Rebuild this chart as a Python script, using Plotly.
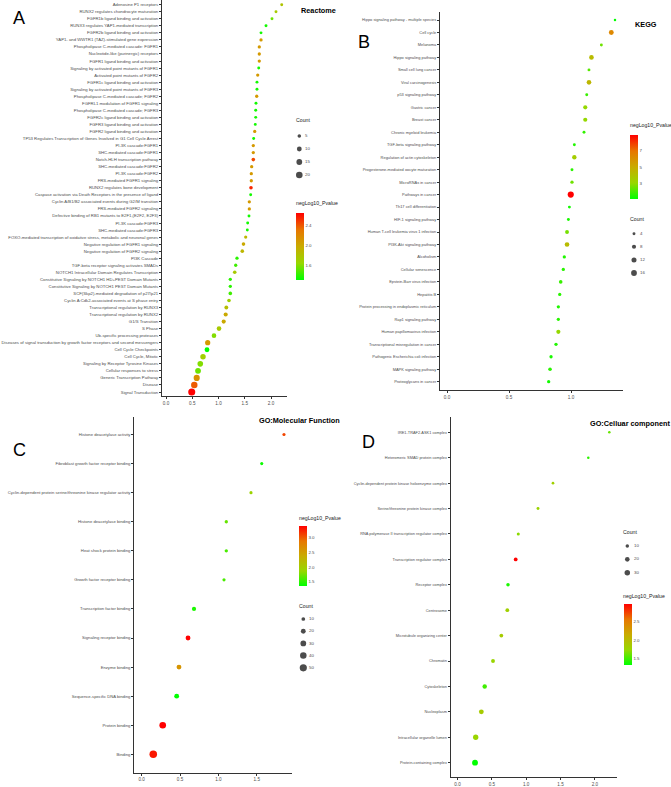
import numpy as np
import plotly.graph_objects as go

W, H = 671, 787

# ---------------- DATA ----------------
reactome_terms = [
    "Adenosine P1 receptors",
    "RUNX2 regulates chondrocyte maturation",
    "FGFR1b ligand binding and activation",
    "RUNX3 regulates YAP1-mediated transcription",
    "FGFR2b ligand binding and activation",
    "YAP1- and WWTR1 (TAZ)-stimulated gene expression",
    "Phospholipase C-mediated cascade: FGFR1",
    "Nucleotide-like (purinergic) receptors",
    "FGFR1 ligand binding and activation",
    "Signaling by activated point mutants of FGFR1",
    "Activated point mutants of FGFR2",
    "FGFR1c ligand binding and activation",
    "Signaling by activated point mutants of FGFR3",
    "Phospholipase C-mediated cascade; FGFR2",
    "FGFRL1 modulation of FGFR1 signaling",
    "Phospholipase C-mediated cascade; FGFR3",
    "FGFR2c ligand binding and activation",
    "FGFR3 ligand binding and activation",
    "FGFR2 ligand binding and activation",
    "TP53 Regulates Transcription of Genes Involved in G1 Cell Cycle Arrest",
    "PI-3K cascade:FGFR1",
    "SHC-mediated cascade:FGFR1",
    "Notch-HLH transcription pathway",
    "SHC-mediated cascade:FGFR2",
    "PI-3K cascade:FGFR2",
    "FRS-mediated FGFR1 signaling",
    "RUNX2 regulates bone development",
    "Caspase activation via Death Receptors in the presence of ligand",
    "Cyclin A/B1/B2 associated events during G2/M transition",
    "FRS-mediated FGFR2 signaling",
    "Defective binding of RB1 mutants to E2F1,(E2F2, E2F3)",
    "PI-3K cascade:FGFR3",
    "SHC-mediated cascade:FGFR3",
    "FOXO-mediated transcription of oxidative stress, metabolic and neuronal genes",
    "Negative regulation of FGFR1 signaling",
    "Negative regulation of FGFR2 signaling",
    "PI3K Cascade",
    "TGF-beta receptor signaling activates SMADs",
    "NOTCH1 Intracellular Domain Regulates Transcription",
    "Constitutive Signaling by NOTCH1 HD+PEST Domain Mutants",
    "Constitutive Signaling by NOTCH1 PEST Domain Mutants",
    "SCF(Skp2)-mediated degradation of p27/p21",
    "Cyclin A:Cdk2-associated events at S phase entry",
    "Transcriptional regulation by RUNX3",
    "Transcriptional regulation by RUNX2",
    "G1/S Transition",
    "S Phase",
    "Ub-specific processing proteases",
    "Diseases of signal transduction by growth factor receptors and second messengers",
    "Cell Cycle Checkpoints",
    "Cell Cycle, Mitotic",
    "Signaling by Receptor Tyrosine Kinases",
    "Cellular responses to stress",
    "Generic Transcription Pathway",
    "Disease",
    "Signal Transduction",
]
reactome_x = [2.204, 2.095, 2.019, 1.905, 1.810, 1.810, 1.777, 1.777, 1.777, 1.766,
              1.747, 1.733, 1.733, 1.728, 1.714, 1.709, 1.709, 1.701, 1.690, 1.670,
              1.663, 1.663, 1.663, 1.632, 1.625, 1.625, 1.619, 1.613, 1.587, 1.587,
              1.581, 1.556, 1.549, 1.518, 1.476, 1.453, 1.352, 1.328, 1.309, 1.225,
              1.225, 1.225, 1.200, 1.149, 1.137, 1.099, 1.010, 0.914, 0.794, 0.781,
              0.705, 0.653, 0.610, 0.585, 0.539, 0.490]
reactome_p = [1.80, 1.75, 1.55, 1.35, 1.35, 2.10, 2.10, 2.10, 2.10, 1.35,
              2.10, 1.35, 1.35, 2.10, 1.35, 1.35, 1.35, 1.35, 2.10, 1.35,
              2.10, 2.10, 2.45, 2.10, 2.10, 2.10, 2.55, 1.35, 2.10, 2.10,
              1.35, 1.35, 1.35, 1.90, 2.00, 1.90, 1.40, 1.45, 1.75, 1.40,
              1.40, 1.45, 1.70, 1.85, 2.00, 2.00, 1.75, 1.60, 2.10, 1.31,
              1.70, 1.60, 1.55, 2.15, 2.40, 2.66]
reactome_count = [3, 3, 3, 3, 3, 4, 4, 4, 4, 3,
                  4, 3, 3, 4, 3, 3, 3, 3, 4, 3,
                  4, 4, 5, 4, 4, 4, 5, 3, 4, 4,
                  3, 3, 3, 4, 5, 5, 4, 4, 5, 4,
                  4, 5, 5, 6, 7, 7, 9, 9, 12, 10,
                  13, 14, 15, 17, 19, 23]
reactome_count_breaks = [5, 10, 15, 20]
reactome_color_ticks = [1.6, 2.0, 2.4]

kegg_terms = [
    "Hippo signaling pathway - multiple species",
    "Cell cycle",
    "Melanoma",
    "Hippo signaling pathway",
    "Small cell lung cancer",
    "Viral carcinogenesis",
    "p53 signaling pathway",
    "Gastric cancer",
    "Breast cancer",
    "Chronic myeloid leukemia",
    "TGF-beta signaling pathway",
    "Regulation of actin cytoskeleton",
    "Progesterone-mediated oocyte maturation",
    "MicroRNAs in cancer",
    "Pathways in cancer",
    "Th17 cell differentiation",
    "HIF-1 signaling pathway",
    "Human T-cell leukemia virus 1 infection",
    "PI3K-Akt signaling pathway",
    "Alcoholism",
    "Cellular senescence",
    "Epstein-Barr virus infection",
    "Hepatitis B",
    "Protein processing in endoplasmic reticulum",
    "Rap1 signaling pathway",
    "Human papillomavirus infection",
    "Transcriptional misregulation in cancer",
    "Pathogenic Escherichia coli infection",
    "MAPK signaling pathway",
    "Proteoglycans in cancer",
]
kegg_x = [1.355, 1.325, 1.245, 1.165, 1.145, 1.145, 1.127, 1.115, 1.115, 1.105,
          1.027, 1.027, 1.008, 1.008, 0.998, 0.987, 0.979, 0.968, 0.968, 0.946,
          0.938, 0.917, 0.909, 0.898, 0.898, 0.898, 0.879, 0.839, 0.831, 0.820]
kegg_p = [1.07, 6.3, 2.5, 4.3, 2.2, 4.5, 1.8, 3.0, 3.0, 1.7,
          1.5, 3.5, 1.6, 2.5, 8.93, 1.3, 1.4, 2.6, 4.3, 1.5,
          1.6, 1.8, 1.6, 1.5, 1.6, 3.0, 1.5, 1.4, 1.6, 1.3]
kegg_count = [3, 11, 4, 10, 4, 10, 4, 8, 8, 4,
              4, 9, 4, 5, 18, 4, 4, 7, 10, 5,
              5, 6, 5, 5, 5, 8, 5, 5, 6, 5]
kegg_count_breaks = [4, 8, 12, 16]
kegg_color_ticks = [3, 5, 7]

mf_terms = [
    "Histone deacetylase activity",
    "Fibroblast growth factor receptor binding",
    "Cyclin-dependent protein serine/threonine kinase regulator activity",
    "Histone deacetylase binding",
    "Heat shock protein binding",
    "Growth factor receptor binding",
    "Transcription factor binding",
    "Signaling receptor binding",
    "Enzyme binding",
    "Sequence-specific DNA binding",
    "Protein binding",
    "Binding",
]
mf_x = [1.855, 1.565, 1.425, 1.103, 1.103, 1.073, 0.682, 0.604, 0.486, 0.456, 0.274, 0.151]
mf_p = [3.1, 1.40, 1.9, 1.7, 1.6, 1.6, 1.45, 3.4, 2.6, 1.36, 3.4, 3.3]
mf_count = [6, 6, 6, 7, 7, 6, 14, 20, 20, 20, 42, 56]
mf_count_breaks = [10, 20, 30, 40, 50]
mf_color_ticks = [1.5, 2.0, 2.5, 3.0]

cc_terms = [
    "IRE1-TRAF2-ASK1 complex",
    "Heteromeric SMAD protein complex",
    "Cyclin-dependent protein kinase holoenzyme complex",
    "Serine/threonine protein kinase complex",
    "RNA polymerase II transcription regulator complex",
    "Transcription regulator complex",
    "Receptor complex",
    "Centrosome",
    "Microtubule organizing center",
    "Chromatin",
    "Cytoskeleton",
    "Nucleoplasm",
    "Intracellular organelle lumen",
    "Protein-containing complex",
]
cc_x = [2.21, 1.904, 1.39, 1.172, 0.885, 0.847, 0.735, 0.725, 0.638, 0.517, 0.396, 0.347, 0.265, 0.255]
cc_p = [1.6, 1.45, 1.8, 1.75, 1.7, 2.95, 1.4, 1.8, 1.85, 1.75, 1.5, 1.85, 1.75, 1.33]
cc_count = [4, 4, 5, 6, 7, 12, 10, 12, 12, 13, 18, 22, 28, 34]
cc_count_breaks = [10, 20, 30]
cc_color_ticks = [1.5, 2.0, 2.5]

# ---------------- STYLE ----------------
NARROW = "Liberation Sans Narrow, Arial Narrow, Liberation Sans, Arial, sans-serif"
SANS = "Liberation Sans, Arial, sans-serif"
AXIS_TXT = "#4d4d4d"
LINE = "#333333"
# green -> red gradient interpolated in Lab space (ggplot-like)
GRAD = [[0.0, "rgb(0,255,0)"], [0.25, "rgb(152,215,0)"], [0.5, "rgb(201,171,0)"],
        [0.75, "rgb(232,118,0)"], [1.0, "rgb(255,0,0)"]]
TITLE_FS = 7.3
LEG_FS = 5.2


def px_x(p):
    return p / W


def px_y(p):
    return 1 - p / H


size_fns = {
    "A": lambda c: np.sqrt(np.maximum(1.8 * np.asarray(c, float), 1.0)) + 0.6,
    "B": lambda c: np.sqrt(np.maximum(1.85 * np.asarray(c, float) - 1.5, 1.0)) + 0.5,
    "C": lambda c: np.sqrt(0.85 * np.asarray(c, float) + 2.0) + 0.5,
    "D": lambda c: np.sqrt(0.8 * np.asarray(c, float) + 1.0) + 0.5,
}

panels = [
    dict(key="A", terms=reactome_terms, x=reactome_x, p=reactome_p, cnt=reactome_count,
         breaks=reactome_count_breaks, cticks=reactome_color_ticks, cfmt="{:.1f}",
         xl=162, xr=287, x0px=166, ppu=52.5, top=0, bottom=396, r1=4.7, rn=392,
         xticks=[0, 0.5, 1.0, 1.5, 2.0], fs=4.25,
         title="Reactome", title_xy=(300, 11), letter_xy=(12, 18),
         cb=dict(x=295.7, top=213, bottom=280, title_xy=(295, 203)),
         lg=dict(title_xy=(295, 120), y0=136, dy=13, dot_x=299.3, lab_x=305)),
    dict(key="B", terms=kegg_terms, x=kegg_x, p=kegg_p, cnt=kegg_count,
         breaks=kegg_count_breaks, cticks=kegg_color_ticks, cfmt="{:d}",
         xl=440, xr=623, x0px=447, ppu=124, top=12, bottom=390, r1=20, rn=381.7,
         xticks=[0, 0.5, 1.0], fs=3.95,
         title="KEGG", title_xy=(634, 24), letter_xy=(357, 42),
         cb=dict(x=630, top=135, bottom=199, title_xy=(629, 125)),
         lg=dict(title_xy=(629, 219), y0=233.7, dy=13.1, dot_x=634, lab_x=640)),
    dict(key="C", terms=mf_terms, x=mf_x, p=mf_p, cnt=mf_count,
         breaks=mf_count_breaks, cticks=mf_color_ticks, cfmt="{:.1f}",
         xl=134.3, xr=291.7, x0px=141.7, ppu=76.7, top=417, bottom=772.7, r1=434.5, rn=754.3,
         xticks=[0, 0.5, 1.0, 1.5], fs=4.2,
         title="GO:Molecular Function", title_xy=(258, 420), letter_xy=(12, 450),
         cb=dict(x=299, top=526, bottom=586, title_xy=(298, 518)),
         lg=dict(title_xy=(298, 605.7), y0=619, dy=12.2, dot_x=303.3, lab_x=309)),
    dict(key="D", terms=cc_terms, x=cc_x, p=cc_p, cnt=cc_count,
         breaks=cc_count_breaks, cticks=cc_color_ticks, cfmt="{:.1f}",
         xl=450.7, xr=616.7, x0px=457.5, ppu=68.7, top=416.7, bottom=777.3, r1=432.3, rn=762.7,
         xticks=[0, 0.5, 1.0, 1.5, 2.0], fs=3.9,
         title="GO:Celluar component", title_xy=(589, 423), letter_xy=(361, 442),
         cb=dict(x=624, top=604.3, bottom=665.7, title_xy=(622, 596)),
         lg=dict(title_xy=(622, 532.3), y0=546, dy=13.35, dot_x=627.3, lab_x=634)),
]

fig = go.Figure()
layout = dict(
    width=W, height=H, margin=dict(l=0, r=0, t=0, b=0, autoexpand=False),
    paper_bgcolor="white", plot_bgcolor="rgba(0,0,0,0)", showlegend=False,
    annotations=[],
)

for i, P in enumerate(panels):
    k = i + 1
    sfx = "" if k == 1 else str(k)
    n = len(P["terms"])
    yidx = [n - 1 - j for j in range(n)]
    # axis ranges from layout geometry
    s = (P["rn"] - P["r1"]) / (n - 1)
    ylo = -(P["bottom"] - P["rn"]) / s
    yhi = (n - 1) + (P["r1"] - P["top"]) / s
    xlo = (P["xl"] - P["x0px"]) / P["ppu"]
    xhi = (P["xr"] - P["x0px"]) / P["ppu"]

    ca = "coloraxis" + sfx
    fig.add_trace(go.Scatter(
        x=P["x"], y=yidx, mode="markers", xaxis="x" + sfx, yaxis="y" + sfx,
        marker=dict(size=size_fns[P["key"]](P["cnt"]), color=P["p"], coloraxis=ca,
                    line=dict(width=0), opacity=1),
        hovertext=P["terms"], hoverinfo="text+x",
    ))
    layout["xaxis" + sfx] = dict(
        domain=[px_x(P["xl"]), px_x(P["xr"])], range=[xlo, xhi], anchor="y" + sfx,
        showline=True, linecolor=LINE, linewidth=1, ticks="outside", ticklen=2,
        tickwidth=0.8, tickcolor=LINE, tickvals=P["xticks"],
        ticktext=["{:.1f}".format(v) for v in P["xticks"]],
        tickfont=dict(size=4.6, color=AXIS_TXT, family=NARROW),
        showgrid=False, zeroline=False, automargin=False)
    layout["yaxis" + sfx] = dict(
        domain=[px_y(P["bottom"]), px_y(P["top"])], range=[ylo, yhi], anchor="x" + sfx,
        showline=True, linecolor=LINE, linewidth=1, ticks="outside", ticklen=2,
        tickwidth=0.8, tickcolor=LINE, tickvals=yidx, ticktext=P["terms"],
        tickfont=dict(size=P["fs"], color=AXIS_TXT, family=NARROW),
        showgrid=False, zeroline=False, automargin=False)

    cb = P["cb"]
    layout[ca] = dict(
        cmin=min(P["p"]), cmax=max(P["p"]), colorscale=GRAD,
        colorbar=dict(
            x=px_x(cb["x"]), xanchor="left", y=px_y(cb["top"]), yanchor="top",
            len=cb["bottom"] - cb["top"], lenmode="pixels", thickness=8,
            thicknessmode="pixels", xpad=0, ypad=0, outlinewidth=0,
            tickvals=P["cticks"], ticktext=[P["cfmt"].format(v) for v in P["cticks"]],
            ticks="", tickfont=dict(size=4.4, color=AXIS_TXT, family=NARROW),
        ))
    layout["annotations"].append(dict(
        text="negLog10_Pvalue", x=px_x(cb["title_xy"][0]), y=px_y(cb["title_xy"][1]),
        xref="paper", yref="paper", xanchor="left", yanchor="middle", showarrow=False,
        borderpad=0, font=dict(size=LEG_FS, color="#222", family=NARROW)))

    # Count (size) legend drawn on its own small axis
    lg = P["lg"]
    m = len(P["breaks"])
    lk = k + 4
    lsfx = str(lk)
    ltop = lg["y0"] - lg["dy"] / 2
    lbot = lg["y0"] + (m - 1) * lg["dy"] + lg["dy"] / 2
    lx0, lx1 = lg["dot_x"] - 8, lg["dot_x"] + 30
    layout["xaxis" + lsfx] = dict(domain=[px_x(lx0), px_x(lx1)], range=[lx0, lx1],
                                  anchor="y" + lsfx, visible=False)
    layout["yaxis" + lsfx] = dict(domain=[px_y(lbot), px_y(ltop)], range=[m - 0.5, -0.5],
                                  anchor="x" + lsfx, visible=False)
    fig.add_trace(go.Scatter(
        x=[lg["dot_x"]] * m, y=list(range(m)), mode="markers",
        xaxis="x" + lsfx, yaxis="y" + lsfx, hoverinfo="skip",
        marker=dict(size=size_fns[P["key"]](P["breaks"]), color="black", line=dict(width=0))))
    fig.add_trace(go.Scatter(
        x=[lg["lab_x"]] * m, y=list(range(m)), mode="text", text=[str(b) for b in P["breaks"]],
        textposition="middle right", xaxis="x" + lsfx, yaxis="y" + lsfx, hoverinfo="skip",
        textfont=dict(size=4.4, color=AXIS_TXT, family=NARROW)))
    layout["annotations"].append(dict(
        text="Count", x=px_x(lg["title_xy"][0]), y=px_y(lg["title_xy"][1]),
        xref="paper", yref="paper", xanchor="left", yanchor="middle", showarrow=False,
        borderpad=0, font=dict(size=LEG_FS, color="#222", family=NARROW)))

    # panel title and letter
    layout["annotations"].append(dict(
        text="<b>" + P["title"] + "</b>", x=px_x(P["title_xy"][0]), y=px_y(P["title_xy"][1]),
        xref="paper", yref="paper", xanchor="left", yanchor="middle", showarrow=False,
        borderpad=0, font=dict(size=TITLE_FS, color="black", family=NARROW)))
    layout["annotations"].append(dict(
        text=P["key"], x=px_x(P["letter_xy"][0]), y=px_y(P["letter_xy"][1]),
        xref="paper", yref="paper", xanchor="left", yanchor="middle", showarrow=False,
        borderpad=0, font=dict(size=18, color="black", family=SANS)))

fig.update_layout(**layout)
fig.write_html("out.html", config={"displayModeBar": False},
               post_script="document.body.style.margin='0px';")
